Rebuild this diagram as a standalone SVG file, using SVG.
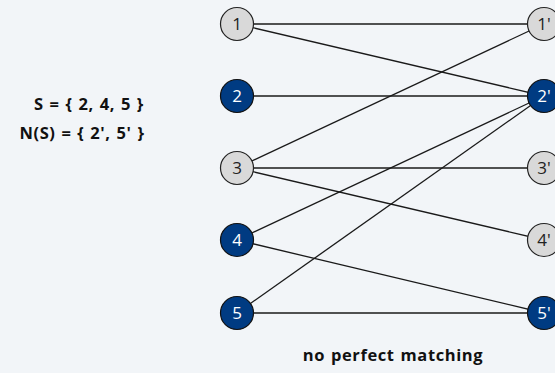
<svg xmlns="http://www.w3.org/2000/svg" width="555" height="373" viewBox="0 0 555 373">
<style>
.bg{fill:#f2f5f8}
.e{stroke:#1a1a1a;stroke-width:1.3;fill:none}
.g{fill:#d9d9d9;stroke:#222;stroke-width:1.2}
.b{fill:#003b82;stroke:#111;stroke-width:1.2}
.lt{font-family:"Open Sans","DejaVu Sans",sans-serif;font-size:17px;text-anchor:middle;fill:#222}
.lw{font-family:"Open Sans","DejaVu Sans",sans-serif;font-size:17px;text-anchor:middle;fill:#fff}
.t{font-family:"Open Sans","DejaVu Sans",sans-serif;font-size:16.5px;font-weight:bold;text-anchor:middle;fill:#111;letter-spacing:0.6px;word-spacing:1px}
</style>
<rect class="bg" x="0" y="0" width="555" height="373"/>
<g id="connectors">
<line class="e" x1="237" y1="24" x2="544" y2="24"/>
<line class="e" x1="237" y1="24" x2="544" y2="96"/>
<line class="e" x1="237" y1="96" x2="544" y2="96"/>
<line class="e" x1="237" y1="168" x2="544" y2="24"/>
<line class="e" x1="237" y1="168" x2="544" y2="168"/>
<line class="e" x1="237" y1="168" x2="544" y2="240"/>
<line class="e" x1="237" y1="240" x2="544" y2="96"/>
<line class="e" x1="237" y1="240" x2="544" y2="313"/>
<line class="e" x1="237" y1="313" x2="544" y2="96"/>
<line class="e" x1="237" y1="313" x2="544" y2="313"/>
</g>
<g id="n1"><circle class="g" cx="237" cy="24" r="16.5"/><text class="lt" x="237" y="30">1</text></g>
<g id="n2"><circle class="b" cx="237" cy="96" r="16.5"/><text class="lw" x="237" y="102">2</text></g>
<g id="n3"><circle class="g" cx="237" cy="168" r="16.5"/><text class="lt" x="237" y="174">3</text></g>
<g id="n4"><circle class="b" cx="237" cy="240" r="16.5"/><text class="lw" x="237" y="246">4</text></g>
<g id="n5"><circle class="b" cx="237" cy="313" r="16.5"/><text class="lw" x="237" y="319">5</text></g>
<g id="m1"><circle class="g" cx="544" cy="24" r="16.5"/><text class="lt" x="544" y="30">1'</text></g>
<g id="m2"><circle class="b" cx="544" cy="96" r="16.5"/><text class="lw" x="544" y="102">2'</text></g>
<g id="m3"><circle class="g" cx="544" cy="168" r="16.5"/><text class="lt" x="544" y="174">3'</text></g>
<g id="m4"><circle class="g" cx="544" cy="240" r="16.5"/><text class="lt" x="544" y="246">4'</text></g>
<g id="m5"><circle class="b" cx="544" cy="313" r="16.5"/><text class="lw" x="544" y="319">5'</text></g>
<g id="labels">
<text class="t" x="89" y="110">S = { 2, 4, 5 }</text>
<text class="t" x="82" y="139">N(S) = { 2', 5' }</text>
<text class="t" x="393" y="361">no perfect matching</text>
</g>
</svg>
